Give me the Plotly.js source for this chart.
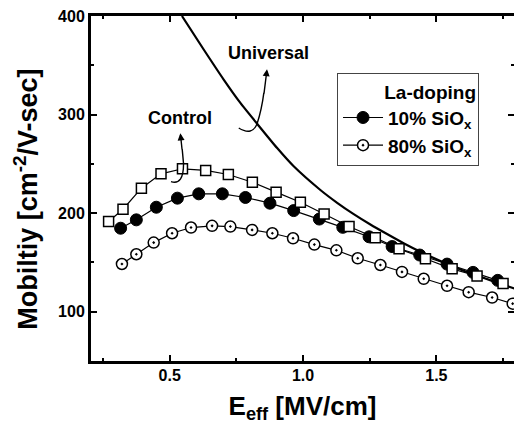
<!DOCTYPE html>
<html>
<head>
<meta charset="utf-8">
<script src="https://cdn.plot.ly/plotly-3.0.1.min.js"></script>
<style>
  html, body { margin: 0; padding: 0; background: #fff; }
  #chart { width: 514px; height: 430px; }
</style>
</head>
<body>
<div id="chart"></div>
<script>
// Universal mobility curve
const universalX = [0.546, 0.6275, 0.7025, 0.765, 0.83, 0.903, 0.965, 1.065, 1.128, 1.19, 1.2525, 1.315, 1.377, 1.44, 1.4775, 1.602, 1.7275, 1.793];
const universalY = [400, 366, 335.5, 311.8, 290, 266, 247.5, 223.5, 210.5, 199, 188.5, 178.8, 169.5, 160.8, 156, 141.5, 129.5, 123.5];

// Control (open squares)
const controlX = [0.271, 0.325, 0.394, 0.4675, 0.548, 0.635, 0.72, 0.81, 0.899, 0.99, 1.079, 1.1725, 1.271, 1.36, 1.459, 1.559, 1.6525, 1.75];
const controlY = [191.5, 204.0, 225.3, 239.9, 245, 243.3, 239.2, 231.4, 221.3, 211.1, 199.1, 186.4, 175.0, 163.8, 153.7, 143.5, 136.2, 128.5];

// La-doping 10% SiOx (filled circles)
const la10X = [0.316, 0.375, 0.45, 0.529, 0.609, 0.6975, 0.784, 0.876, 0.965, 1.061, 1.149, 1.2475, 1.334, 1.4375, 1.54, 1.6375, 1.73];
const la10Y = [184.7, 193.2, 206, 215.2, 219.6, 219.6, 215.9, 210.1, 202.6, 194.0, 185.6, 176.0, 166.1, 157.5, 148.3, 139.9, 131.8];

// La-doping 80% SiOx (open circles with dot)
const la80X = [0.321, 0.375, 0.44, 0.509, 0.58, 0.659, 0.7275, 0.809, 0.885, 0.9625, 1.0425, 1.125, 1.205, 1.29, 1.371, 1.4525, 1.54, 1.621, 1.709, 1.786];
const la80Y = [148.4, 158.3, 170.1, 179.6, 185.4, 187.1, 186.4, 183, 179.6, 174.5, 168.1, 162.3, 154.2, 147.4, 140.4, 133.4, 126.3, 119.8, 114.4, 108.2];

// Axis / label text
const xTitle = 'E<sub>eff</sub> [MV/cm]';
const yTitle = 'Mobiltiy [cm<sup>-2</sup>/V-sec]';
const legendTitle = 'La-doping';
const name10 = '10% SiO<sub>x</sub>';
const name80 = '80% SiO<sub>x</sub>';

const FAM = 'Liberation Sans, Arial, sans-serif';
const bold = (size) => ({family: FAM, size: size, color: '#000', weight: 'bold'});

const traces = [
  {
    x: universalX, y: universalY, type: 'scatter', mode: 'lines',
    line: {color: '#000', width: 2.2, shape: 'spline', smoothing: 0.6},
    showlegend: false, hoverinfo: 'skip'
  },
  {
    x: la10X, y: la10Y, type: 'scatter', mode: 'lines+markers', name: name10,
    line: {color: '#000', width: 1.2},
    marker: {symbol: 'circle', size: 12, color: '#000', line: {color: '#000', width: 1}}
  },
  {
    x: controlX, y: controlY, type: 'scatter', mode: 'lines+markers', name: 'Control',
    line: {color: '#000', width: 1.2},
    marker: {symbol: 'square', size: 10, color: '#fff', line: {color: '#000', width: 1.5}},
    showlegend: false
  },
  {
    x: la80X, y: la80Y, type: 'scatter', mode: 'lines+markers', name: name80,
    line: {color: '#000', width: 1.2},
    marker: {symbol: 'circle-dot', size: 11, color: '#fff', line: {color: '#000', width: 1.5}}
  }
];

const layout = {
  width: 514, height: 430,
  margin: {l: 91, r: 0, t: 16, b: 69, pad: 0},
  paper_bgcolor: '#fff', plot_bgcolor: '#fff',
  font: bold(16),
  showlegend: true,
  xaxis: {
    range: [0.205, 1.791],
    showline: true, linewidth: 3, linecolor: '#000', mirror: 'ticks',
    ticks: 'inside', ticklen: 6, tickwidth: 2, tickcolor: '#000',
    dtick: 0.5, tick0: 0, tickformat: '.1f',
    minor: {dtick: 0.25, ticks: 'inside', ticklen: 3, tickwidth: 2, tickcolor: '#000', showgrid: false},
    showgrid: false, zeroline: false,
    tickfont: bold(16), ticklabelstandoff: -2,
    title: {text: xTitle, font: bold(26), standoff: 14}
  },
  yaxis: {
    range: [50, 400],
    showline: true, linewidth: 3, linecolor: '#000', mirror: 'ticks',
    ticks: 'inside', ticklen: 6, tickwidth: 2, tickcolor: '#000',
    dtick: 100, tick0: 0,
    minor: {dtick: 50, ticks: 'inside', ticklen: 3, tickwidth: 2, tickcolor: '#000', showgrid: false},
    showgrid: false, zeroline: false,
    tickfont: bold(16),
    title: {text: ''}
  },
  legend: {
    x: 0.5816, y: 0.835, xanchor: 'left', yanchor: 'top',
    bgcolor: '#fff', bordercolor: '#444', borderwidth: 1,
    font: bold(19),
    title: {text: legendTitle, side: 'top right', font: bold(19)},
    itemwidth: 40, tracegroupgap: 0
  },
  shapes: [
    {type: 'path', xref: 'x', yref: 'y',
     path: 'M 0.759,286.4 Q 0.81,278 0.828,291 Q 0.845,305 0.853,322',
     line: {color: '#000', width: 1.4}},
    {type: 'path', xref: 'x', yref: 'y',
     path: 'M 0.505,232 Q 0.552,228 0.552,250 L 0.547,265',
     line: {color: '#000', width: 1.4}}
  ],
  annotations: [
    {x: 0, xref: 'paper', xshift: -65, y: 213.5, yref: 'y', text: yTitle, textangle: -90,
     showarrow: false, font: bold(27), xanchor: 'center', yanchor: 'middle'},
    {x: 0.870, y: 362.6, xref: 'x', yref: 'y', text: 'Universal', showarrow: false, font: bold(18)},
    {x: 0.540, y: 296.5, xref: 'x', yref: 'y', text: 'Control', showarrow: false, font: bold(18)},
    {x: 0.865, y: 346, ax: 0.853, ay: 320, xref: 'x', yref: 'y', axref: 'x', ayref: 'y',
     text: '', showarrow: true, arrowhead: 2, arrowsize: 1, arrowwidth: 1.4, arrowcolor: '#000'},
    {x: 0.540, y: 281, ax: 0.547, ay: 263, xref: 'x', yref: 'y', axref: 'x', ayref: 'y',
     text: '', showarrow: true, arrowhead: 2, arrowsize: 1, arrowwidth: 1.4, arrowcolor: '#000'}
  ]
};

Plotly.newPlot('chart', traces, layout, {displayModeBar: false, staticPlot: true});
</script>
</body>
</html>
